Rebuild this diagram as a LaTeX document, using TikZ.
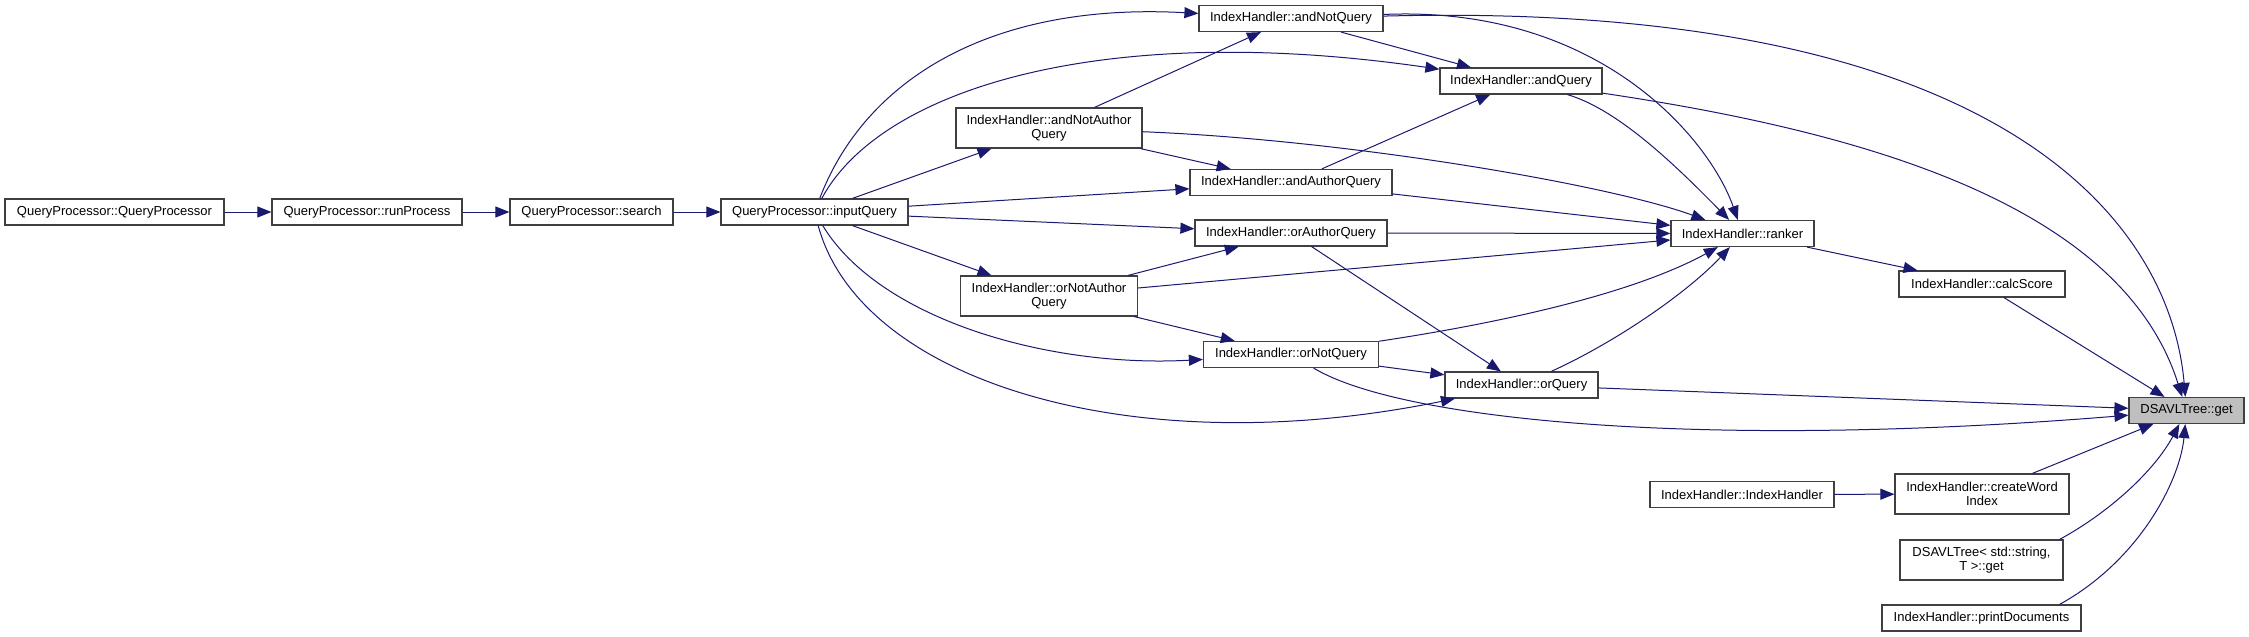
\documentclass[tikz,border=0pt]{standalone}
\usepackage{fontspec}
\setmainfont{Liberation Sans}
\usetikzlibrary{arrows.meta}
\definecolor{edgeblue}{HTML}{191970}
\definecolor{getgray}{HTML}{BFBFBF}
\tikzset{
  fn/.style={draw=black!75,line width=1.2pt,fill=white,align=center,inner xsep=2pt,inner ysep=0pt,
    minimum height=26pt,font=\fontsize{13}{14}\selectfont},
  call/.style={->,draw=edgeblue,line width=1pt}
}
\begin{document}
\begin{tikzpicture}[x=1pt,y=-1pt,>={Triangle[length=14pt,width=11pt]}]
\useasboundingbox (0,0) rectangle (2249,637);
% query processor chain
\node[fn,minimum width=219pt] (qpCtor) at (114.5,212) {QueryProcessor::QueryProcessor};
\node[fn,minimum width=190pt] (qpRun) at (367,212) {QueryProcessor::runProcess};
\node[fn,minimum width=163pt] (qpSearch) at (591.5,212) {QueryProcessor::search};
\node[fn,minimum width=187pt] (qpInput) at (814.5,212) {QueryProcessor::inputQuery};
% index handler queries
\node[fn,minimum width=184pt] (andNot) at (1291,18.5) {IndexHandler::andNotQuery};
\node[fn,minimum width=162pt] (andQ) at (1521,81) {IndexHandler::andQuery};
\node[fn,minimum width=186pt,minimum height=40pt] (andNotAuth) at (1049,128) {IndexHandler::andNotAuthor\\Query};
\node[fn,minimum width=202pt] (andAuth) at (1291,182.5) {IndexHandler::andAuthorQuery};
\node[fn,minimum width=192pt] (orAuth) at (1291,233) {IndexHandler::orAuthorQuery};
\node[fn,minimum width=177pt,minimum height=40pt] (orNotAuth) at (1049,296) {IndexHandler::orNotAuthor\\Query};
\node[fn,minimum width=175pt] (orNot) at (1291,354.5) {IndexHandler::orNotQuery};
\node[fn,minimum width=153pt] (orQ) at (1521.5,385) {IndexHandler::orQuery};
\node[fn,minimum width=143pt] (ranker) at (1742.5,233.5) {IndexHandler::ranker};
\node[fn,minimum width=166pt] (calcScore) at (1982,284) {IndexHandler::calcScore};
% callee and the other callers
\node[fn,minimum width=115pt,fill=getgray] (treeGet) at (2186.5,410.5) {DSAVLTree::get};
\node[fn,minimum width=184pt] (ihCtor) at (1742,494.5) {IndexHandler::IndexHandler};
\node[fn,minimum width=174pt,minimum height=40pt] (createIdx) at (1982,494) {IndexHandler::createWord\\Index};
\node[fn,minimum width=163pt,minimum height=40pt] (strGet) at (1981.5,560) {DSAVLTree< std::string,\\T >::get};
\node[fn,minimum width=199pt] (printDocs) at (1981.5,618) {IndexHandler::printDocuments};
% calls
\draw[call] (qpCtor) -- (qpRun);
\draw[call] (qpRun) -- (qpSearch);
\draw[call] (qpSearch) -- (qpInput);
\draw[call] (qpInput) .. controls (865,80) and (990,2) .. (andNot);
\draw[call] (qpInput) .. controls (880,90) and (1100,20) .. (andQ);
\draw[call] (qpInput) -- (andNotAuth);
\draw[call] (qpInput) -- (andAuth);
\draw[call] (qpInput) -- (orAuth);
\draw[call] (qpInput) -- (orNotAuth);
\draw[call] (qpInput) .. controls (880,320) and (1050,368) .. (orNot);
\draw[call] (qpInput) .. controls (860,380) and (1130,465) .. (orQ);
\draw[call] (andNotAuth) -- (andNot);
\draw[call] (andNotAuth) -- (andAuth);
\draw[call] (andNotAuth) .. controls (1350,140) and (1610,185) .. (ranker);
\draw[call] (andAuth) -- (andQ);
\draw[call] (andAuth) -- (ranker);
\draw[call] (andNot) -- (andQ);
\draw[call] (andNot) .. controls (1600,5) and (1710,140) .. (ranker);
\draw[call] (andNot) .. controls (2000,0) and (2170,220) .. (treeGet);
\draw[call] (andQ) .. controls (1620,110) and (1680,170) .. (ranker);
\draw[call] (andQ) .. controls (1850,130) and (2120,200) .. (treeGet);
\draw[call] (orAuth) -- (ranker);
\draw[call] (orAuth) -- (orQ);
\draw[call] (orNotAuth) -- (orAuth);
\draw[call] (orNotAuth) -- (ranker);
\draw[call] (orNotAuth) -- (orNot);
\draw[call] (orNot) .. controls (1520,320) and (1640,290) .. (ranker);
\draw[call] (orNot) -- (orQ);
\draw[call] (orNot) .. controls (1400,420) and (1700,450) .. (treeGet);
\draw[call] (orQ) .. controls (1620,340) and (1690,290) .. (ranker);
\draw[call] (orQ) -- (treeGet);
\draw[call] (ranker) -- (calcScore);
\draw[call] (calcScore) -- (treeGet);
\draw[call] (ihCtor) -- (createIdx);
\draw[call] (createIdx) -- (treeGet);
\draw[call] ([xshift=-4pt]strGet.north east) .. controls (2110,512) and (2155,470) .. (treeGet);
\draw[call] ([xshift=-22pt]printDocs.north east) .. controls (2140,560) and (2180,480) .. (treeGet);
\end{tikzpicture}
\end{document}
